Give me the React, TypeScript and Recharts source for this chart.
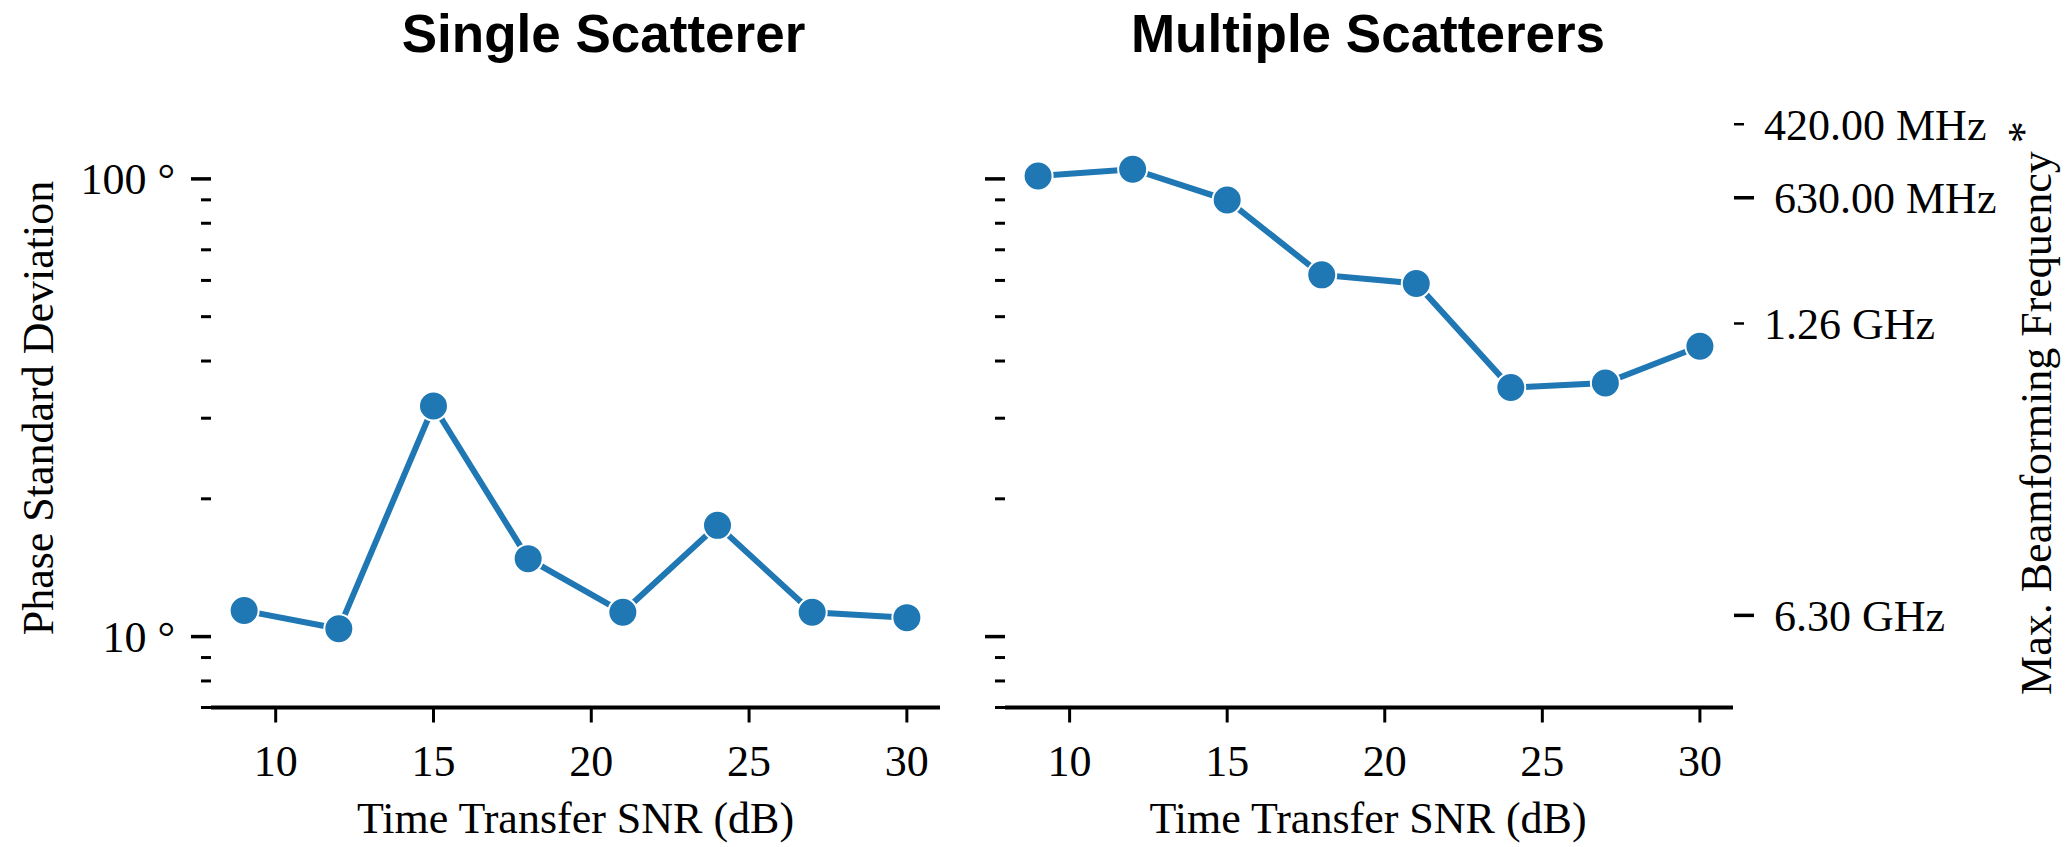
import { Label, Line, LineChart, XAxis, YAxis } from "recharts";

// SNR values (dB) shared by both panels
const snr = [9, 12, 15, 18, 21, 24, 27, 30];
// phase standard deviation in degrees
const singleStd = [11.4, 10.4, 31.9, 14.8, 11.3, 17.5, 11.3, 11.0];
const multiStd = [101.5, 105.0, 89.9, 61.7, 59.1, 35.0, 35.8, 43.1];

const xTicks = [10, 15, 20, 25, 30];
const phaseTicks = [7, 8, 9, 10, 20, 30, 40, 50, 60, 70, 80, 90, 100];
const majorPhase = [10, 100];
const freqTicks = [420e6, 630e6, 1.26e9, 6.3e9];
const freqLabels = ["420.00 MHz", "630.00 MHz", "1.26 GHz", "6.30 GHz"];
const majorFreq = [630e6, 6.3e9];

const BLUE = "#1f77b4";
const SERIF = "'Liberation Serif', 'Times New Roman', serif";
const FS = 44;

const singleData = snr.map((s, i) => ({ snr: s, std: singleStd[i] }));
const multiData = snr.map((s, i) => ({ snr: s, std: multiStd[i] }));

function PhaseTick(props: any) {
  const { x, y, payload, showLabel } = props;
  const major = majorPhase.includes(payload.value);
  const len = major ? 20 : 10;
  return (
    <g>
      <line x1={x - len} x2={x} y1={y} y2={y} stroke="#000" strokeWidth={major ? 3.5 : 3} />
      {showLabel && major && (
        <text x={x - len - 16} y={y} dy="0.35em" textAnchor="end" fontFamily={SERIF} fontSize={FS} fill="#000">
          {payload.value} °
        </text>
      )}
    </g>
  );
}

function FreqTick(props: any) {
  const { x, y, payload } = props;
  const major = majorFreq.includes(payload.value);
  const len = major ? 20 : 10;
  return (
    <g>
      <line x1={x + 1} x2={x + 1 + len} y1={y} y2={y} stroke="#000" strokeWidth={major ? 3.5 : 2.5} />
      <text x={x + len + 21} y={y} dy="0.35em" textAnchor="start" fontFamily={SERIF} fontSize={FS} fill="#000">
        {freqLabels[freqTicks.indexOf(payload.value)]}
      </text>
    </g>
  );
}

const xAxisProps = {
  dataKey: "snr",
  type: "number" as const,
  domain: [7.95, 31.05],
  ticks: xTicks,
  interval: 0 as const,
  height: 139.5,
  tickSize: 15,
  tickMargin: 22,
  axisLine: { stroke: "#000", strokeWidth: 4 },
  tickLine: { stroke: "#000", strokeWidth: 3 },
  tick: { fill: "#000", fontSize: FS, fontFamily: SERIF },
};

const phaseAxisProps = {
  type: "number" as const,
  scale: "log" as const,
  domain: [7, 140],
  ticks: phaseTicks,
  interval: 0 as const,
  allowDataOverflow: true,
  axisLine: false,
  tickLine: false,
  tickSize: 0,
  tickMargin: 0,
};

const lineProps = {
  dataKey: "std",
  type: "linear" as const,
  stroke: BLUE,
  strokeWidth: 6,
  dot: { r: 14.5, fill: BLUE, stroke: "#fff", strokeWidth: 2 },
  activeDot: false as const,
  isAnimationActive: false,
};

function xTitle(cx: number) {
  return (
    <Label
      content={() => (
        <text x={cx} y={818} dy="0.35em" textAnchor="middle" fontFamily={SERIF} fontSize={FS} fill="#000">
          Time Transfer SNR (dB)
        </text>
      )}
    />
  );
}

function Title({ text, cx }: { text: string; cx: number }) {
  return (
    <div
      style={{
        position: "absolute",
        left: cx,
        top: 7,
        transform: "translateX(-50%)",
        fontFamily: "'Liberation Sans', Arial, sans-serif",
        fontWeight: "bold",
        fontSize: 53,
        lineHeight: "53px",
        whiteSpace: "nowrap",
        color: "#000",
      }}
    >
      {text}
    </div>
  );
}

export default function App() {
  return (
    <div style={{ position: "absolute", left: 0, top: 0, width: 2066, height: 847, background: "#fff" }}>
      <div style={{ position: "absolute", left: 0, top: 0 }}>
        <LineChart width={960} height={847} data={singleData} margin={{ top: 112, right: 20, bottom: 0, left: 0 }}>
          <XAxis {...xAxisProps}>{xTitle(575.5)}</XAxis>
          <YAxis {...phaseAxisProps} width={211} tick={(p: any) => <PhaseTick {...p} showLabel />}>
            <Label
              content={() => (
                <text
                  x={38}
                  y={408}
                  dy="0.35em"
                  textAnchor="middle"
                  transform="rotate(-90 38 408)"
                  fontFamily={SERIF}
                  fontSize={FS}
                  fill="#000"
                >
                  Phase Standard Deviation
                </text>
              )}
            />
          </YAxis>
          <Line {...lineProps} />
        </LineChart>
      </div>
      <div style={{ position: "absolute", left: 960, top: 0 }}>
        <LineChart width={1106} height={847} data={multiData} margin={{ top: 112, right: 0, bottom: 0, left: 0 }}>
          <XAxis {...xAxisProps}>{xTitle(1368 - 960)}</XAxis>
          <YAxis {...phaseAxisProps} width={45} tick={(p: any) => <PhaseTick {...p} />} />
          <YAxis
            yAxisId="freq"
            orientation="right"
            type="number"
            scale="log"
            domain={[3.926e8, 1.047e10]}
            reversed
            allowDataOverflow
            ticks={freqTicks}
            interval={0}
            width={333}
            axisLine={false}
            tickLine={false}
            tickSize={0}
            tickMargin={0}
            tick={(p: any) => <FreqTick {...p} />}
          >
            <Label
              content={() => (
                <text
                  x={2036 - 960}
                  y={408}
                  dy="0.35em"
                  textAnchor="middle"
                  transform={`rotate(-90 ${2036 - 960} 408)`}
                  fontFamily={SERIF}
                  fontSize={FS}
                  fill="#000"
                >
                  Max. Beamforming Frequency
                  <tspan dx={8} dy="-0.3em">*</tspan>
                </text>
              )}
            />
          </YAxis>
          <Line {...lineProps} />
        </LineChart>
      </div>
      <Title text="Single Scatterer" cx={603.5} />
      <Title text="Multiple Scatterers" cx={1368} />
    </div>
  );
}
